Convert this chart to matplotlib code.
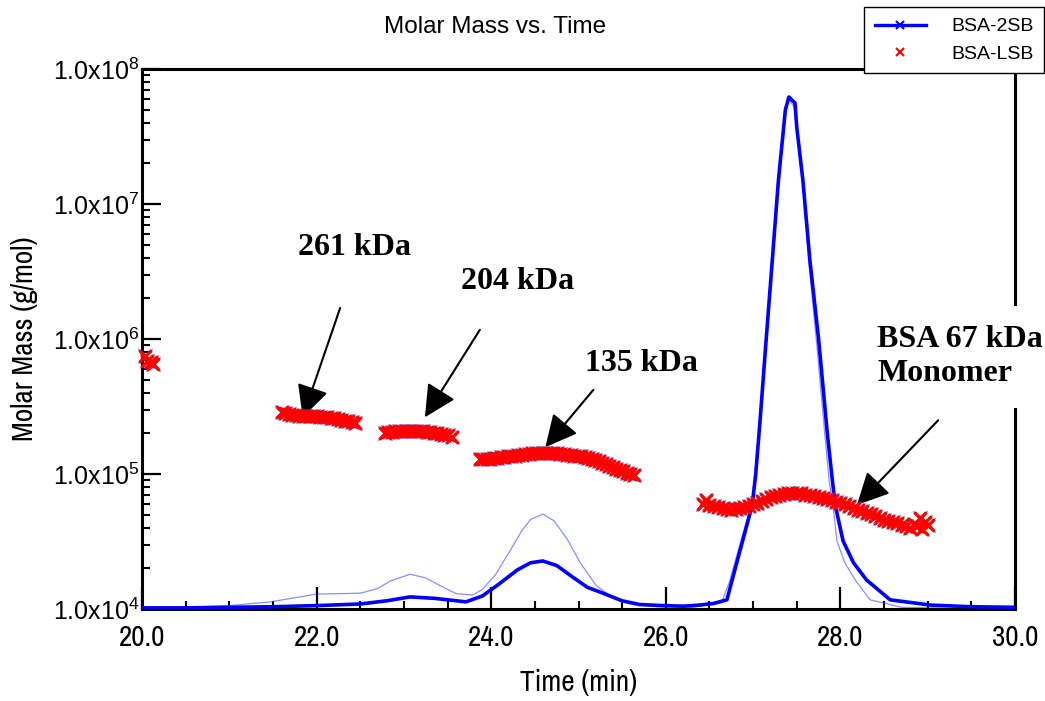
"""Molar mass vs. time: BSA-2SB / BSA-LSB traces with oligomer annotations."""
import numpy as np
import matplotlib
matplotlib.use("Agg")
import matplotlib.pyplot as plt
from matplotlib import font_manager as fm
from matplotlib.lines import Line2D
from matplotlib.ticker import MultipleLocator, LogLocator, NullFormatter

plt.rcParams['font.family'] = ['Liberation Sans', 'DejaVu Sans']
plt.rcParams['mathtext.fontset'] = 'custom'
plt.rcParams['mathtext.rm'] = 'Liberation Sans'
plt.rcParams['mathtext.it'] = 'Liberation Sans:italic'

# pick a narrow sans for the axis texts if one is installed
_have = {f.name for f in fm.fontManager.ttflist}
_narrow = [n for n in ('Liberation Sans Narrow', 'Arial Narrow', 'Archivo Narrow',
                       'PT Sans Narrow', 'Roboto Condensed') if n in _have]
NARROW = (_narrow[:1] or []) + ['Liberation Sans', 'DejaVu Sans']
NARROW_OK = bool(_narrow)

# detector trace (thick) of BSA-2SB
t_thick = [20.0, 20.5, 21.0, 21.5, 22.0, 22.5, 22.8, 23.07, 23.35, 23.71, 23.9, 24.1,
           24.3, 24.45, 24.59, 24.75, 24.93, 25.1, 25.28, 25.5, 25.7, 25.97, 26.2,
           26.39, 26.55, 26.7, 26.76, 26.88, 26.99, 27.03, 27.08, 27.15, 27.22, 27.29,
           27.37, 27.41, 27.48, 27.5, 27.57, 27.65, 27.75, 27.85, 27.9, 27.94, 28.03,
           28.15, 28.3, 28.57, 29.03, 29.5, 30.0]
m_thick = [1.02e4, 1.02e4, 1.03e4, 1.04e4, 1.06e4, 1.09e4, 1.15e4, 1.23e4, 1.2e4,
           1.13e4, 1.25e4, 1.55e4, 1.95e4, 2.2e4, 2.27e4, 2.1e4, 1.73e4, 1.45e4,
           1.31e4, 1.15e4, 1.08e4, 1.06e4, 1.05e4, 1.07e4, 1.1e4, 1.17e4, 1.64e4,
           3.2e4, 5.9e4, 1.0e5, 2.5e5, 1.0e6, 3.85e6, 1.5e7, 5.0e7, 6.2e7, 5.6e7,
           3.7e7, 1.5e7, 3.85e6, 1.0e6, 2.0e5, 1.0e5, 5.9e4, 3.2e4, 2.2e4, 1.64e4,
           1.17e4, 1.07e4, 1.04e4, 1.03e4]

# thin trace
t_thin = [20.0, 20.5, 21.0, 21.47, 22.0, 22.5, 22.7, 22.85, 23.07, 23.25, 23.45, 23.6,
          23.79, 23.9, 24.05, 24.2, 24.35, 24.45, 24.59, 24.72, 24.87, 25.02, 25.2,
          25.4, 25.6, 25.9, 26.3, 26.5, 26.65, 26.73, 26.86, 26.98, 27.02, 27.08,
          27.15, 27.22, 27.29, 27.37, 27.41, 27.47, 27.5, 27.57, 27.64, 27.73, 27.82,
          27.87, 27.92, 27.96, 28.05, 28.17, 28.34, 28.7, 29.5, 30.0]
m_thin = [1.02e4, 1.03e4, 1.06e4, 1.13e4, 1.29e4, 1.31e4, 1.42e4, 1.62e4, 1.81e4,
          1.7e4, 1.45e4, 1.3e4, 1.27e4, 1.4e4, 1.8e4, 2.6e4, 3.8e4, 4.6e4, 5.05e4,
          4.5e4, 3.3e4, 2.2e4, 1.5e4, 1.2e4, 1.09e4, 1.04e4, 1.03e4, 1.08e4, 1.17e4,
          1.6e4, 3.2e4, 5.9e4, 1.0e5, 2.5e5, 1.0e6, 3.85e6, 1.5e7, 5.0e7, 6.0e7,
          5.2e7, 3.5e7, 1.4e7, 3.6e6, 9.0e5, 2.0e5, 9.0e4, 5.5e4, 3.2e4, 2.2e4,
          1.64e4, 1.17e4, 1.03e4, 1.01e4, 1.01e4]

# molar mass points (BSA-LSB, with BSA-2SB underneath)
t_seg0 = [20.03, 20.06, 20.1, 20.13]
m_seg0 = [7.5e5, 6.9e5, 6.7e5, 6.5e5]
t_seg1 = [21.60, 21.64, 21.68, 21.72, 21.76, 21.80, 21.84, 21.88, 21.92, 21.96, 22.00,
          22.04, 22.08, 22.12, 22.16, 22.20, 22.24, 22.28, 22.32, 22.36, 22.40, 22.44]
m_seg1 = [2.88e5, 2.84e5, 2.78e5, 2.74e5, 2.72e5, 2.7e5, 2.69e5, 2.68e5, 2.68e5,
          2.67e5, 2.67e5, 2.66e5, 2.65e5, 2.63e5, 2.61e5, 2.58e5, 2.55e5, 2.52e5,
          2.49e5, 2.45e5, 2.41e5, 2.37e5]
t_seg2 = [22.78, 22.82, 22.86, 22.90, 22.94, 22.98, 23.02, 23.06, 23.10, 23.14, 23.18,
          23.22, 23.26, 23.30, 23.34, 23.38, 23.42, 23.46, 23.50, 23.55]
m_seg2 = [2.03e5, 2.05e5, 2.06e5, 2.07e5, 2.08e5, 2.08e5, 2.09e5, 2.09e5, 2.09e5,
          2.08e5, 2.08e5, 2.07e5, 2.06e5, 2.05e5, 2.03e5, 2.01e5, 1.99e5, 1.96e5,
          1.93e5, 1.89e5]
t_seg3 = [23.87, 23.91, 23.95, 23.99, 24.03, 24.07, 24.11, 24.15, 24.19, 24.23, 24.27,
          24.31, 24.35, 24.39, 24.43, 24.47, 24.51, 24.55, 24.59, 24.63, 24.67, 24.71,
          24.75, 24.79, 24.83, 24.87, 24.91, 24.95, 24.99, 25.03, 25.07, 25.11, 25.15,
          25.19, 25.23, 25.27, 25.31, 25.35, 25.39, 25.43, 25.47, 25.51, 25.55, 25.59,
          25.63]
m_seg3 = [1.29e5, 1.29e5, 1.30e5, 1.30e5, 1.31e5, 1.32e5, 1.33e5, 1.34e5, 1.35e5,
          1.36e5, 1.37e5, 1.38e5, 1.39e5, 1.40e5, 1.41e5, 1.42e5, 1.42e5, 1.43e5,
          1.43e5, 1.43e5, 1.43e5, 1.42e5, 1.42e5, 1.41e5, 1.40e5, 1.39e5, 1.38e5,
          1.37e5, 1.36e5, 1.35e5, 1.33e5, 1.31e5, 1.29e5, 1.27e5, 1.24e5, 1.21e5,
          1.18e5, 1.15e5, 1.12e5, 1.09e5, 1.07e5, 1.05e5, 1.02e5, 1.0e5, 9.8e4]
t_seg4 = [26.43, 26.46, 26.50, 26.55, 26.60, 26.65, 26.70, 26.75, 26.80, 26.85, 26.90,
          26.95, 27.00, 27.05, 27.10, 27.15, 27.20, 27.25, 27.30, 27.35, 27.40, 27.45,
          27.50, 27.55, 27.60, 27.65, 27.70, 27.75, 27.80, 27.85, 27.90, 27.95, 28.00,
          28.05, 28.10, 28.15, 28.20, 28.25, 28.30, 28.35, 28.40, 28.45, 28.50, 28.55,
          28.60, 28.65, 28.70, 28.75, 28.80, 28.84, 28.88, 28.91, 28.94, 28.97, 29.00]
m_seg4 = [6.0e4, 6.4e4, 5.9e4, 5.8e4, 5.7e4, 5.6e4, 5.5e4, 5.45e4, 5.5e4, 5.6e4,
          5.7e4, 5.8e4, 5.95e4, 6.1e4, 6.3e4, 6.5e4, 6.7e4, 6.85e4, 7.0e4, 7.1e4,
          7.2e4, 7.25e4, 7.25e4, 7.2e4, 7.05e4, 6.95e4, 6.85e4, 6.7e4, 6.6e4, 6.5e4,
          6.4e4, 6.25e4, 6.1e4, 5.95e4, 5.8e4, 5.6e4, 5.45e4, 5.3e4, 5.15e4, 5.05e4,
          4.9e4, 4.75e4, 4.6e4, 4.5e4, 4.4e4, 4.33e4, 4.2e4, 4.1e4, 4.0e4, 4.3e4,
          4.1e4, 4.7e4, 3.9e4, 4.4e4, 4.2e4]

yticks = [1e4, 1e5, 1e6, 1e7, 1e8]
ylabels = [r'1.0x10$^{4}$', r'1.0x10$^{5}$', r'1.0x10$^{6}$', r'1.0x10$^{7}$',
           r'1.0x10$^{8}$']
xticks = [20, 22, 24, 26, 28, 30]
xlabels = ['20.0', '22.0', '24.0', '26.0', '28.0', '30.0']

# (label, text pos, arrow tail, arrow tip) in data units
notes = [
    ("261 kDa", (22.43, 4.8e6), (22.27, 1.7e6), (21.84, 2.63e5)),
    ("204 kDa", (24.30, 2.65e6), (23.87, 1.17e6), (23.24, 2.63e5)),
    ("135 kDa", (25.72, 6.6e5), (25.17, 4.2e5), (24.62, 1.58e5)),
]
mono_text = "BSA 67 kDa\nMonomer"
mono_pos = (28.42, 7.4e5)
mono_arrow = ((29.12, 2.5e5), (28.19, 5.9e4))

fig = plt.figure(figsize=(10.45, 7.01), dpi=100)
ax = fig.add_axes([0.1359, 0.1312, 0.8354, 0.7704])

ax.plot(t_thin, m_thin, color='#4040ff', lw=0.9, alpha=0.6, zorder=2)
ax.plot(t_thick, m_thick, color='#0000ff', lw=2.6, zorder=3)

t_mm = np.concatenate([t_seg0, t_seg1, t_seg2, t_seg3, t_seg4])
m_mm = np.concatenate([m_seg0, m_seg1, m_seg2, m_seg3, m_seg4])
ax.plot(t_mm, m_mm, 'x', color='#4040c0', ms=9.5, mew=0.9, zorder=4, clip_on=False)
ax.plot(t_mm, m_mm, 'x', color='#ff0000', ms=8.5, mew=2.4, zorder=5, clip_on=False)

xsize = 21 if NARROW_OK else 19
ax.set_yscale('log')
ax.set_xlim(20, 30)
ax.set_ylim(1e4, 1e8)
ax.set_yticks(yticks)
ax.set_yticklabels(ylabels, fontsize=18)
ax.yaxis.set_minor_locator(LogLocator(base=10, subs=np.arange(2, 10)))
ax.yaxis.set_minor_formatter(NullFormatter())
ax.set_xticks(xticks)
ax.set_xticklabels(xlabels, fontsize=xsize, family=NARROW)
ax.xaxis.set_minor_locator(MultipleLocator(0.5))
ax.tick_params(which='major', direction='in', length=16, width=1.6)
ax.tick_params(which='minor', direction='in', length=6, width=1.5)
ax.tick_params(axis='x', which='major', pad=11)
ax.tick_params(axis='y', which='major', length=14, pad=2)
for s in ax.spines.values():
    s.set_linewidth(2.2)

ax.set_xlabel("Time (min)", fontsize=xsize, family=NARROW, labelpad=13)
ax.set_ylabel("Molar Mass (g/mol)", fontsize=21 if NARROW_OK else 18, family=NARROW)
ax.yaxis.set_label_coords(-0.119, 0.5)
fig.text(0.474, 0.962, "Molar Mass vs. Time", fontsize=17.5, ha='center', va='center')

afont = dict(family=['Liberation Serif', 'DejaVu Serif'], weight='bold', size=23)
aprops = dict(arrowstyle='-|>,head_length=0.9,head_width=0.45', mutation_scale=22,
              color='k', lw=1.5, shrinkA=0, shrinkB=0)
for label, tpos, tail, tip in notes:
    ax.text(tpos[0], tpos[1], label, ha='center', va='center', **afont)
    ax.annotate("", xy=tip, xytext=tail, arrowprops=aprops)
ax.text(mono_pos[0], mono_pos[1], mono_text, ha='left', va='center', linespacing=1.25,
        bbox=dict(boxstyle='square,pad=0.6', facecolor='white', edgecolor='none'),
        zorder=6, **afont)
ax.annotate("", xy=mono_arrow[1], xytext=mono_arrow[0], arrowprops=aprops)

handles = [Line2D([], [], color='#0000ff', lw=2.4, marker='x', ms=6, mew=1.5),
           Line2D([], [], color='#ff0000', ls='none', marker='x', ms=6, mew=1.5)]
leg = fig.legend(handles, ["BSA-2SB", "BSA-LSB"], loc='upper right',
                 bbox_to_anchor=(0.999, 0.99), borderaxespad=0, fontsize=14,
                 fancybox=False, framealpha=1, edgecolor='black', handlelength=2.6,
                 borderpad=0.55, labelspacing=0.5, handletextpad=1.3)
leg.get_frame().set_linewidth(1.0)

fig.savefig("out.png", dpi=100)
